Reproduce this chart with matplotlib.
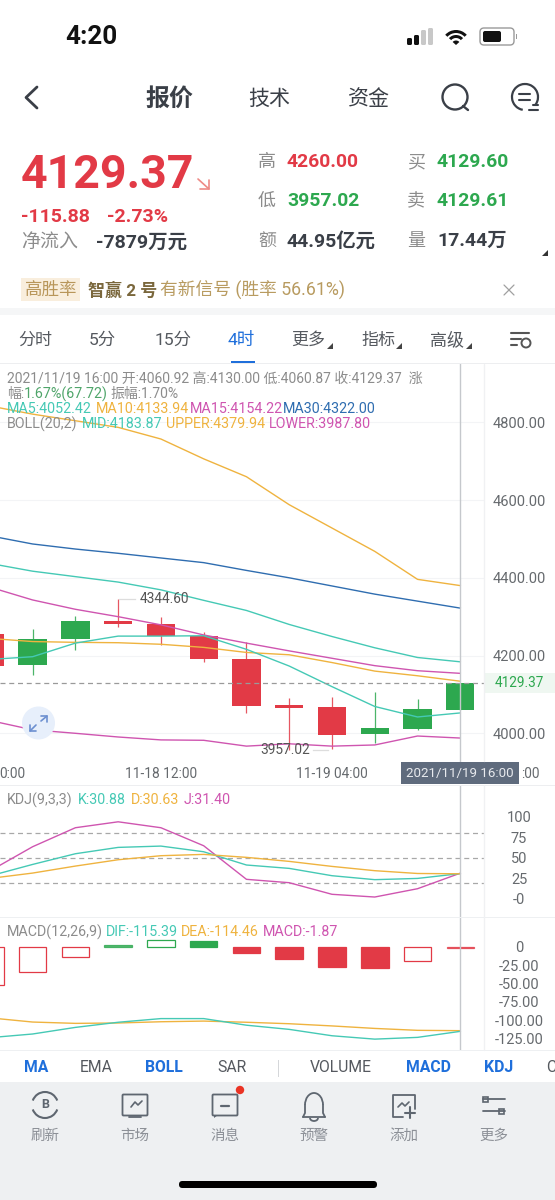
import matplotlib
matplotlib.use("Agg")
import matplotlib.pyplot as plt
from matplotlib.patches import Rectangle, Circle, Wedge, FancyBboxPatch, Polygon, Arc
from matplotlib.transforms import blended_transform_factory
import numpy as np

plt.rcParams['font.family'] = ['Roboto', 'Noto Sans CJK SC', 'DejaVu Sans']

# ---------- data ----------
idx = list(range(-1, 11))
opens  = [4255, 4175, 4243, 4290, 4282.4, 4250.7, 4191.4, 4072, 4067, 3997.4, 4012, 4060.92]
closes = [4174, 4243.8, 4290, 4281.6, 4250.7, 4190.6, 4071, 4065, 3996.6, 4013, 4063.5, 4129.37]
highs  = [4262, 4268.7, 4302, 4344.6, 4300, 4261, 4236, 4091, 4092.7, 4107, 4088.4, 4130]
lows   = [4160, 4150, 4213, 4273, 4228, 4184, 4051.5, 3957.02, 3959, 3974, 4008.6, 4060.87]

boll_upper = [4842, 4821, 4804, 4787, 4757, 4706, 4660, 4588, 4528, 4468, 4396, 4379.94]
ma30       = [4508, 4487, 4474, 4463, 4451, 4439, 4419, 4400, 4379, 4358, 4340, 4322.00]
boll_mid   = [4437, 4417, 4403, 4389, 4369, 4342, 4316, 4280, 4249, 4220, 4195, 4183.87]
ma15       = [4376, 4343, 4319, 4300, 4279, 4253, 4232, 4212, 4193, 4174, 4161, 4154.22]
ma10       = [4244, 4236, 4234, 4233, 4229, 4221, 4208, 4202, 4182, 4160, 4148, 4133.94]
ma5        = [4190, 4197, 4232, 4250, 4250, 4251, 4216, 4173, 4120, 4069, 4042, 4052.42]
boll_lower = [4033, 4009, 4000, 3990.5, 3983, 3982, 3967, 3973, 3967, 3970, 3993, 3987.80]

kdj_k = [28, 42, 55, 62.7, 64.3, 57.4, 41.3, 37.2, 28.3, 23.5, 25, 30.88]
kdj_d = [25, 31.5, 40, 47.7, 52.6, 54.2, 50.6, 45.7, 39.6, 34.4, 31, 30.63]
kdj_j = [34, 63.5, 86.6, 93.8, 86.6, 64.7, 23.9, 19.8, 5.7, 2.4, 12.5, 31.40]

macd_hist = [-52, -34, -13.6, 2.5, 9, 7.5, -8.6, -16.4, -27, -29, -19, -1.87]
macd_solid = [False, False, False, True, False, True, True, True, True, True, False, True]
macd_dif = [-124, -119, -110, -103, -98, -98, -107, -112.7, -121.4, -126, -123.6, -115.39]
macd_dea = [-97, -102.7, -104.5, -104, -102.3, -101.4, -103, -105, -108, -111.4, -114, -114.46]

price_ticks = [4000, 4200, 4400, 4600, 4800]
kdj_ticks = [0, 25, 50, 75, 100]
kdj_tick_labels = ['-0', '25', '50', '75', '100']
kdj_levels = [20, 50, 80]
macd_ticks = [0, -25, -50, -75, -100, -125]
macd_tick_labels = ['0', '-25.00', '-50.00', '-75.00', '-100.00', '-125.00']
time_pos = [-0.47, 3, 7, 11.63]
time_labels = ['0:00', '11-18 12:00', '11-19 04:00', ':00']

# ---------- colours ----------
RED = '#E23A46'; GREEN = '#2DA84F'; TEAL = '#45C9B5'; ORANGE = '#EFB33F'
PINK = '#CF55B0'; BLUE = '#2F6DB0'; GRAY = '#8C8C8C'; DARK = '#3A3F47'; TICK = '#666A6E'
ACCENT = '#1F6FDB'; GRID = '#F3F4F6'; LW = 1.0; CROSS = '#C5C8CC'

W, H = 555, 1200
fig = plt.figure(figsize=(W / 100, H / 100), dpi=100, facecolor='white')


def axes_px(x0, y0, x1, y1):
    a = fig.add_axes([x0 / W, 1 - y1 / H, (x1 - x0) / W, (y1 - y0) / H])
    a.set_facecolor('none')
    for s in a.spines.values():
        s.set_visible(False)
    a.set_xlim((x0 - 32.6) / 42.77, (x1 - 32.6) / 42.77)
    a.tick_params(axis='x', length=0, labelbottom=False)
    a.yaxis.tick_right()
    a.tick_params(axis='y', length=0, labelsize=10.5, labelcolor=TICK, pad=25.2)
    return a


def set_y(a, y0, y1, v_a, py_a, v_b, py_b):
    k = (v_b - v_a) / (py_b - py_a)
    a.set_ylim(v_a + (y1 - py_a) * k, v_a + (y0 - py_a) * k)


def center_labels(a):
    for t in a.get_yticklabels():
        t.set_ha('center')


# ---------- price panel ----------
ax = axes_px(0, 364, 484, 761.5)
set_y(ax, 364, 761.5, 4800, 422.3, 4000, 733.3)
ax.set_yticks(price_ticks)
ax.set_yticklabels([f'{v:.2f}' for v in price_ticks])
center_labels(ax)
ax.grid(axis='y', color=GRID, lw=0.8)
ax.set_axisbelow(True)
for i, o, c, h, l in zip(idx, opens, closes, highs, lows):
    col = GREEN if c > o else RED
    ax.vlines(i, l, h, color=col, lw=0.9, alpha=.85, zorder=2)
    ax.bar(i, abs(c - o), bottom=min(o, c), width=28.3 / 42.77, color=col, lw=0, zorder=2.5)
for s, col in [(boll_upper, ORANGE), (ma30, BLUE), (boll_mid, TEAL), (ma15, PINK),
               (ma10, ORANGE), (ma5, TEAL), (boll_lower, PINK)]:
    ax.plot(idx, s, color=col, lw=LW, zorder=3, solid_joinstyle='round')
ax.axhline(closes[-1], color='#9A9A9A', lw=0.9, ls=(0, (4, 3)), zorder=3)
ax.axvline(10, color=CROSS, lw=LW, zorder=4)
ax.plot([2.02, 2.4], [highs[3], highs[3]], color='#DDDDDD', lw=0.9)
ax.text(2.5, highs[3], f'{highs[3]:.2f}', fontsize=9.9, color='#555', va='center', ha='left')
ax.plot([6.55, 6.9], [lows[7] + 0, lows[7] + 0], color='#DDDDDD', lw=0.9)
ax.text(6.48, lows[7], f'{lows[7]:.2f}', fontsize=9.9, color='#555', va='center', ha='right')
tr = blended_transform_factory(ax.transData, fig.transFigure)
for p, s in zip(time_pos, time_labels):
    ax.text(p, 1 - 773.5 / H, s, transform=tr, fontsize=9.9, color=TICK, ha='center', va='center', clip_on=False)

# ---------- KDJ panel ----------
ax2 = axes_px(0, 785, 484, 917)
set_y(ax2, 785, 917, 100, 816.7, 0, 899)
ax2.set_yticks(kdj_ticks)
ax2.set_yticklabels(kdj_tick_labels)
center_labels(ax2)
for lv in kdj_levels:
    ax2.axhline(lv, color='#A8A8A8', lw=0.9, ls=(0, (4, 3)))
ax2.plot(idx, kdj_j, color=PINK, lw=LW)
ax2.plot(idx, kdj_k, color=TEAL, lw=LW)
ax2.plot(idx, kdj_d, color=ORANGE, lw=LW)
ax2.axvline(10, color=CROSS, lw=LW, zorder=4)

# ---------- MACD panel ----------
ax3 = axes_px(0, 917, 484, 1050)
set_y(ax3, 917, 1050, 0, 946.7, -125, 1038.4)
ax3.set_yticks(macd_ticks)
ax3.set_yticklabels(macd_tick_labels)
center_labels(ax3)
for i, v, solid in zip(idx, macd_hist, macd_solid):
    col = GREEN if v > 0 else RED
    alpha = .8 if abs(v) < 3 else 1
    ax3.bar(i, v, width=27.5 / 42.77, facecolor=col if solid else 'white', edgecolor=col, lw=0.9, alpha=alpha)
ax3.plot(idx, macd_dea, color=ORANGE, lw=LW)
ax3.plot(idx, macd_dif, color=TEAL, lw=LW)
ax3.axvline(10, color=CROSS, lw=LW, zorder=4)

# ---------- UI overlay in pixel coordinates ----------
ui = fig.add_axes([0, 0, 1, 1], zorder=10)
ui.set_xlim(0, W); ui.set_ylim(H, 0); ui.axis('off'); ui.patch.set_alpha(0)


def T(x, y, s, px, color=DARK, weight='normal', ha='left', **kw):
    return ui.text(x, y, s, fontsize=px * .72, color=color, weight=weight, ha=ha, va='center', **kw)


def R(x, y, w, h, color, **kw):
    ui.add_patch(Rectangle((x, y), w, h, facecolor=color, edgecolor='none', **kw))


def L(xs, ys, color=DARK, lw=1.4, **kw):
    ui.plot(xs, ys, color=color, lw=lw, solid_capstyle='round', **kw)


def RR(x, y, w, h, r, fc='none', ec=DARK, lw=1.3):
    ui.add_patch(FancyBboxPatch((x + r, y + r), w - 2 * r, h - 2 * r, boxstyle=f'round,pad={r}',
                                facecolor=fc, edgecolor=ec, lw=lw))


# status bar
T(65, 37, '4:20', 26, '#111', 'bold')
for x, y0, c in [(407, 38, '#111'), (414, 35, '#111'), (421, 30, '#C8C8C8'), (428, 28, '#C8C8C8')]:
    RR(x, y0, 5, 45 - y0, 1.5, fc=c, ec='none', lw=0)
for r, wd in [(13, 3), (8, 3)]:
    ui.add_patch(Wedge((456, 44.5), r + 1.5, 222, 318, width=wd, fc='#111', ec='none'))
ui.add_patch(Wedge((456, 45), 4.5, 222, 318, fc='#111', ec='none'))
RR(480, 28, 34, 17, 4, fc='white', ec='#9A9A9A', lw=1)
RR(483, 31, 18, 11, 2, fc='#111', ec='none', lw=0)
R(515.5, 34, 1.3, 5, '#9A9A9A')

# nav
L([37, 26, 37], [87, 97.5, 108], DARK, 2.0)
T(145.5, 99.5, '报价', 24, DARK, 'bold')
T(248, 99.5, '技术', 21, DARK)
T(348, 99.5, '资金', 21, DARK)
ui.add_patch(Circle((455, 97), 12.5, fc='none', ec=DARK, lw=1.7))
L([463, 468], [106, 110], DARK, 1.7)
ui.add_patch(Arc((525, 97), 26, 26, theta1=100, theta2=40, ec=DARK, lw=1.6))
L([519, 530], [94, 94], DARK, 1.5); L([519, 530], [100, 100], DARK, 1.5)
L([529, 538], [110, 110], DARK, 1.5); L([533, 538], [105, 105], DARK, 1.5)

# quote block
T(21, 175, '4129.37', 46.5, RED, 'bold')
L([198, 209, 209], [179, 189, 180], '#EE8A86', 1.2); L([209, 200], [189, 189], '#EE8A86', 1.2)
T(21, 217, '-115.88', 19.5, RED, 'bold')
T(107, 217, '-2.73%', 19.5, RED, 'bold')
T(21, 242, '净流入', 19, GRAY)
T(96, 243, '-7879万元', 19.5, DARK, 'bold')
for lab, x, y in [('高', 258, 162), ('低', 258, 201), ('额', 258, 241), ('买', 407, 162), ('卖', 407, 201), ('量', 407, 241)]:
    T(x, y, lab, 18, GRAY)
T(287, 162, '4260.00', 19.4, RED, 'bold')
T(287, 201, '3957.02', 19.4, GREEN, 'bold')
T(287, 241, '44.95亿元', 19.4, DARK, 'bold')
T(437, 162, '4129.60', 19.4, GREEN, 'bold')
T(437, 201, '4129.61', 19.4, GREEN, 'bold')
T(437, 241, '17.44万', 19.4, DARK, 'bold')
ui.add_patch(Polygon([[548, 250], [548, 256], [542, 256]], fc='#333', ec='none'))

# banner
R(21, 278, 59, 23, '#F9EEDD')
T(24.5, 290, '高胜率', 17.5, '#B8965A')
T(88, 290, '智赢 2 号', 17, '#7A673C', 'bold')
T(160, 290, '有新信号 (胜率 56.61%)', 17.7, '#B89B60')
L([504, 514], [285, 295], '#A0A0A0', 0.9); L([504, 514], [295, 285], '#A0A0A0', 0.9)
R(0, 308, W, 7, '#F5F6F7')

# period tabs
T(18, 340, '分时', 17, '#55595F'); T(89, 340, '5分', 17.5, '#55595F'); T(155, 340, '15分', 17.5, '#55595F')
T(228, 340, '4时', 17.5, ACCENT)
T(291, 340, '更多', 17, '#55595F'); T(361, 340, '指标', 17, '#55595F'); T(430, 340, '高级', 17, '#55595F')
for x in [333, 402, 472]:
    ui.add_patch(Polygon([[x, 343], [x, 349], [x - 6, 349]], fc='#444', ec='none'))
L([511, 529], [333, 333], '#555', 1.5); L([511, 521], [339, 339], '#555', 1.5); L([511, 517], [345, 345], '#555', 1.5)
ui.add_patch(Circle((526, 343), 4.5, fc='white', ec='#555', lw=1.4))
R(231, 361, 24, 2.5, ACCENT)
R(0, 363, W, 1, '#EDEEF0')

# chart side furniture
L([484, 484], [364, 761], '#F0F1F3', 1.0); L([484, 484], [785, 1050], '#F0F1F3', 1.0)
R(484, 673, 71, 19.5, '#EFF7F1')
T(519.5, 683, '4129.37', 13.6, GREEN, ha='center')
R(0, 761.5, W, 0.8, '#EDEEF0'); R(0, 785, W, 0.8, '#EDEEF0'); R(0, 917, W, 0.8, '#EEF0F2'); R(0, 1050, W, 0.8, '#EEF0F2')
R(400.7, 762, 118.5, 22.3, '#5F6B7D')
T(460, 773.5, '2021/11/19 16:00', 13.4, '#E8EAEE', ha='center')
ui.add_patch(Circle((38.5, 723), 16.5, fc='#E7EFFB', ec='none'))
L([41, 47], [721, 716], '#6C8FD0', 1.2); L([41, 47, 47], [716, 716, 722], '#6C8FD0', 1.2)
L([36, 30], [725, 731], '#6C8FD0', 1.2); L([30, 30, 36], [725, 731, 731], '#6C8FD0', 1.2)

# chart legends
LS = 14.2
T(7, 379, '2021/11/19 16:00 开:4060.92 高:4130.00 低:4060.87 收:4129.37  涨', 13.9, GRAY)
T(7, 394, '幅:', 13.9, GRAY); T(24, 394, '1.67%(67.72)', LS, '#4FA56A'); T(110, 394, '振幅:1.70%', 13.9, GRAY)
for x, y, s, c in [(7, 409, 'MA5:4052.42', TEAL), (96, 409, 'MA10:4133.94', ORANGE), (190, 409, 'MA15:4154.22', PINK),
                   (283, 409, 'MA30:4322.00', BLUE), (7, 424, 'BOLL(20,2)', GRAY), (82, 424, 'MID:4183.87', TEAL),
                   (166, 424, 'UPPER:4379.94', ORANGE), (269, 424, 'LOWER:3987.80', PINK),
                   (7, 800, 'KDJ(9,3,3)', GRAY), (78, 800, 'K:30.88', TEAL), (131, 800, 'D:30.63', ORANGE), (184, 800, 'J:31.40', PINK),
                   (7, 932, 'MACD(12,26,9)', GRAY), (106, 932, 'DIF:-115.39', TEAL), (181, 932, 'DEA:-114.46', ORANGE), (263, 932, 'MACD:-1.87', PINK)]:
    T(x, y, s, LS, c)

# indicator tabs
for x, s, c, w in [(24, 'MA', ACCENT, 'bold'), (80, 'EMA', '#55595F', 'normal'), (145, 'BOLL', ACCENT, 'bold'),
                   (217, 'SAR', '#55595F', 'normal'), (310, 'VOLUME', '#55595F', 'normal'), (406, 'MACD', ACCENT, 'bold'),
                   (484, 'KDJ', ACCENT, 'bold'), (546, 'C', '#55595F', 'normal')]:
    T(x, 1068, s, 15.8, c, w)
R(277.5, 1060, 1.5, 17, '#D5D7DA')

# bottom bar
R(0, 1082, W, 118, '#EEF0F2')
IC = '#5E6670'
for x, s in [(45, '刷新'), (135, '市场'), (225, '消息'), (314, '预警'), (404, '添加'), (494, '更多')]:
    T(x, 1136, s, 14.5, '#8C9097', ha='center')
ui.add_patch(Arc((45, 1105), 26, 26, theta1=200, theta2=340, ec=IC, lw=1.5))
ui.add_patch(Arc((45, 1105), 26, 26, theta1=20, theta2=160, ec=IC, lw=1.5))
T(45, 1105, 'B', 12.5, IC, 'bold', ha='center')
RR(122.5, 1094.5, 25, 21, 1, ec=IC, lw=1.3); L([131, 135, 138, 142], [1107, 1102, 1105, 1101], IC, 1.2); L([129, 141], [1117, 1117], IC, 1.3)
RR(212.5, 1094.5, 25, 21, 1, ec=IC, lw=1.3); L([221, 229], [1106, 1106], IC, 1.6)
ui.add_patch(Polygon([[214, 1115], [214, 1118], [218, 1115]], fc=IC, ec='none'))
ui.add_patch(Circle((240, 1090), 4.2, fc='#EA3324', ec='none'))
ui.add_patch(Arc((314, 1105), 18, 24, theta1=180, theta2=360, ec=IC, lw=1.3))
L([305, 305, 303], [1105, 1113, 1117], IC, 1.3); L([323, 323, 325], [1105, 1113, 1117], IC, 1.3); L([303, 325], [1117, 1117], IC, 1.3)
ui.add_patch(Arc((314, 1118), 8, 6, theta1=0, theta2=180, ec=IC, lw=1.3))
L([403, 393, 393, 415, 415], [1117, 1117, 1094.5, 1094.5, 1109], IC, 1.3); L([398, 402, 405, 409], [1107, 1103, 1106, 1102], IC, 1.2)
L([410, 410], [1107, 1118], IC, 1.5); L([405, 415], [1113, 1113], IC, 1.5)
L([483, 505], [1099, 1099], IC, 1.3); L([483, 505], [1111, 1111], IC, 1.3)
ui.add_patch(Rectangle((483, 1096.5), 5, 5, fc='#EEF0F2', ec=IC, lw=1.2))
ui.add_patch(Rectangle((499, 1108.5), 5, 5, fc='#EEF0F2', ec=IC, lw=1.2))
RR(179, 1181, 198, 7, 3.4, fc='black', ec='none', lw=0)

fig.savefig('out.png', dpi=100, facecolor='white')
